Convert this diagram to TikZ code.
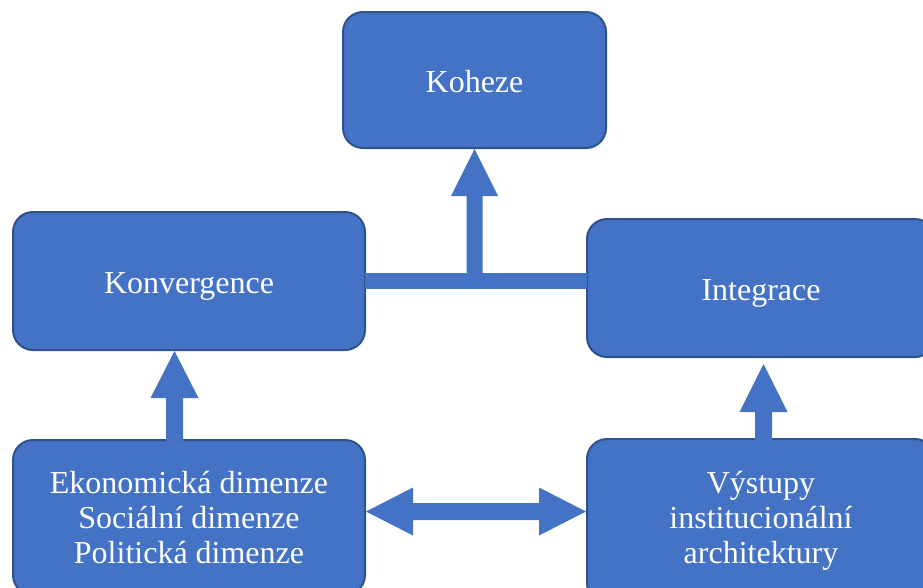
\documentclass[tikz,border=0pt]{standalone}
\usepackage{fontspec}
\setmainfont{Liberation Serif}
\usetikzlibrary{calc}
\definecolor{boxblue}{HTML}{4472C4}
\definecolor{edgeblue}{HTML}{2F528F}
\begin{document}
\begin{tikzpicture}[x=1pt,y=-1pt,
  box/.style={draw=edgeblue, line width=2pt, fill=boxblue, rounded corners=20pt,
    text=white, align=center, inner sep=0pt,
    font=\fontsize{32}{35}\selectfont},
  onebox/.style={box, text height=24pt, text depth=0pt},
  arrowfill/.style={fill=boxblue}]
\useasboundingbox (0,0) rectangle (923,587);
\clip (0,0) rectangle (923,587);
% boxes
\node[onebox, minimum width=263pt, minimum height=136pt] (koh) at (474.5,80) {Koheze};
\node[onebox, minimum width=352pt, minimum height=138pt] (konv) at (189,281) {Konvergence};
\node[onebox, minimum width=348pt, minimum height=138pt] (integ) at (761,288) {Integrace};
\node[box, minimum width=352pt, minimum height=155pt] (bl) at (189,517.5)
  {Ekonomická dimenze\\Sociální dimenze\\Politická dimenze};
\node[box, minimum width=348pt, minimum height=164pt] (br) at (761,521)
  {Výstupy\\institucionální\\architektury};
% arrow: bottom-left -> Konvergence
\coordinate (kt) at ($(konv.south)+(-14.5,0)$);
\coordinate (kb) at (kt |- bl.north);
\fill[arrowfill] ($(kb)+(-8.5,2)$) -- ($(kt)+(-8.5,47)$) -- ($(kt)+(-24,47)$) -- (kt)
  -- ($(kt)+(24,47)$) -- ($(kt)+(8.5,47)$) -- ($(kb)+(8.5,2)$) -- cycle;
% arrow: bottom-right -> Integrace
\coordinate (it) at ($(integ.south)+(2.5,6)$);
\coordinate (ib) at (it |- br.north);
\fill[arrowfill] ($(ib)+(-8.5,2)$) -- ($(it)+(-8.5,48)$) -- ($(it)+(-24,48)$) -- (it)
  -- ($(it)+(24,48)$) -- ($(it)+(8.5,48)$) -- ($(ib)+(8.5,2)$) -- cycle;
% bar between Konvergence and Integrace
\coordinate (barL) at (konv.east);
\coordinate (barR) at (konv.east -| integ.west);
\fill[arrowfill] ($(barL)+(-1,-8)$) rectangle ($(barR)+(1,8)$);
% arrow: bar -> Koheze
\coordinate (ht) at (koh.south);
\coordinate (hb) at (ht |- barL);
\fill[arrowfill] ($(hb)+(-8,0)$) -- ($(ht)+(-8,47)$) -- ($(ht)+(-23.5,47)$) -- (ht)
  -- ($(ht)+(23.5,47)$) -- ($(ht)+(8,47)$) -- ($(hb)+(8,0)$) -- cycle;
% double arrow between bottom boxes
\coordinate (dl) at ($(bl.east)+(0,-6)$);
\coordinate (dr) at (dl -| br.west);
\fill[arrowfill] (dl) -- ($(dl)+(47,-24)$) -- ($(dl)+(47,-8.5)$) -- ($(dr)+(-47,-8.5)$)
  -- ($(dr)+(-47,-24)$) -- (dr) -- ($(dr)+(-47,24)$) -- ($(dr)+(-47,8.5)$)
  -- ($(dl)+(47,8.5)$) -- ($(dl)+(47,24)$) -- cycle;
\end{tikzpicture}
\end{document}
